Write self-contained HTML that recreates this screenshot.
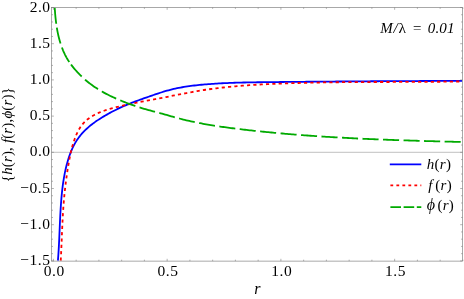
<!DOCTYPE html>
<html><head><meta charset="utf-8"><title>plot</title>
<style>
html,body{margin:0;padding:0;background:#fff;}
body{width:464px;height:299px;overflow:hidden;font-family:"Liberation Serif",serif;}
svg{display:block}
text{font-family:"Liberation Serif",serif;fill:#000;filter:grayscale(1)}
.tk text{font-size:15.5px}
.it{font-style:italic}
</style></head><body>
<svg width="464" height="299" viewBox="0 0 464 299">
<rect width="464" height="299" fill="#fff"/>
<defs><clipPath id="c"><rect x="51.6" y="7.5" width="410.9" height="253.60000000000002"/></clipPath></defs>
<line x1="51.6" x2="462.5" y1="152.30" y2="152.30" stroke="#b0b0b0" stroke-width="0.8"/>
<g clip-path="url(#c)" fill="none" stroke-width="1.8" stroke-linejoin="round">
<path d="M57.92,260.60 L58.06,258.85 L58.19,257.10 L58.32,255.35 L58.43,253.60 L58.55,251.85 L58.65,250.10 L58.75,248.35 L58.85,246.60 L58.94,244.85 L59.03,243.10 L59.11,241.35 L59.20,239.60 L59.28,237.86 L59.35,236.11 L59.43,234.36 L59.50,232.61 L59.58,230.86 L59.65,229.11 L59.73,227.36 L59.80,225.62 L59.88,223.87 L59.96,222.12 L60.04,220.37 L60.12,218.63 L60.21,216.88 L60.29,215.13 L60.39,213.39 L60.48,211.64 L60.59,209.89 L60.69,208.15 L60.81,206.40 L60.93,204.65 L61.05,202.91 L61.18,201.16 L61.32,199.42 L61.47,197.67 L61.63,195.93 L61.79,194.18 L61.97,192.44 L62.15,190.69 L62.35,188.95 L62.56,187.21 L62.78,185.47 L63.01,183.73 L63.26,182.00 L63.52,180.26 L63.80,178.53 L64.10,176.80 L64.41,175.08 L64.74,173.36 L65.09,171.64 L65.46,169.93 L65.85,168.22 L66.26,166.51 L66.69,164.81 L67.15,163.12 L67.63,161.43 L68.13,159.74 L68.66,158.07 L69.21,156.40 L69.80,154.74 L70.41,153.09 L71.06,151.46 L71.73,149.84 L72.45,148.25 L73.20,146.67 L73.99,145.12 L74.82,143.59 L75.70,142.09 L76.61,140.61 L77.58,139.17 L78.59,137.76 L79.64,136.38 L80.73,135.03 L81.86,133.71 L83.02,132.42 L84.22,131.16 L85.46,129.93 L86.73,128.73 L88.03,127.56 L89.35,126.41 L90.71,125.30 L92.09,124.21 L93.49,123.15 L94.92,122.12 L96.36,121.11 L97.82,120.12 L99.30,119.15 L100.79,118.21 L102.29,117.28 L103.80,116.37 L105.32,115.48 L106.85,114.60 L108.38,113.74 L109.92,112.90 L111.46,112.07 L113.01,111.26 L114.57,110.46 L116.13,109.68 L117.70,108.91 L119.27,108.16 L120.85,107.42 L122.44,106.70 L124.03,106.00 L125.63,105.31 L127.24,104.63 L128.86,103.97 L130.48,103.32 L132.10,102.69 L133.73,102.06 L135.36,101.44 L137.00,100.83 L138.65,100.23 L140.29,99.64 L141.94,99.05 L143.59,98.47 L145.25,97.89 L146.90,97.31 L148.56,96.73 L150.22,96.16 L151.87,95.58 L153.53,95.01 L155.19,94.44 L156.86,93.87 L158.52,93.32 L160.19,92.77 L161.86,92.24 L163.54,91.71 L165.21,91.21 L166.89,90.72 L168.58,90.26 L170.27,89.81 L171.97,89.39 L173.67,88.98 L175.37,88.60 L177.08,88.23 L178.79,87.89 L180.51,87.56 L182.23,87.25 L183.95,86.96 L185.68,86.68 L187.41,86.41 L189.14,86.16 L190.87,85.93 L192.61,85.70 L194.35,85.49 L196.09,85.29 L197.83,85.10 L199.57,84.92 L201.31,84.75 L203.06,84.59 L204.80,84.44 L206.55,84.30 L208.29,84.16 L210.04,84.03 L211.79,83.90 L213.53,83.78 L215.28,83.67 L217.03,83.56 L218.78,83.46 L220.53,83.36 L222.27,83.27 L224.02,83.18 L225.77,83.10 L227.52,83.03 L229.27,82.95 L231.02,82.89 L232.77,82.82 L234.52,82.76 L236.27,82.71 L238.02,82.66 L239.77,82.61 L241.52,82.56 L243.27,82.52 L245.03,82.48 L246.78,82.44 L248.53,82.41 L250.28,82.38 L252.03,82.35 L253.78,82.32 L255.54,82.29 L257.29,82.27 L259.04,82.25 L260.79,82.23 L262.54,82.21 L264.29,82.19 L266.05,82.17 L267.80,82.15 L269.55,82.13 L271.30,82.11 L273.05,82.09 L274.81,82.07 L276.56,82.06 L278.31,82.04 L280.06,82.02 L281.81,82.00 L283.57,81.99 L285.32,81.97 L287.07,81.95 L288.82,81.93 L290.57,81.92 L292.32,81.90 L294.07,81.88 L295.83,81.87 L297.58,81.85 L299.33,81.83 L301.08,81.82 L302.83,81.80 L304.58,81.79 L306.33,81.77 L308.09,81.75 L309.84,81.74 L311.59,81.72 L313.34,81.71 L315.09,81.69 L316.84,81.68 L318.59,81.66 L320.34,81.65 L322.10,81.63 L323.85,81.62 L325.60,81.60 L327.35,81.59 L329.10,81.57 L330.85,81.56 L332.60,81.55 L334.35,81.53 L336.11,81.52 L337.86,81.50 L339.61,81.49 L341.36,81.48 L343.11,81.46 L344.86,81.45 L346.61,81.44 L348.36,81.42 L350.11,81.41 L351.87,81.40 L353.62,81.39 L355.37,81.37 L357.12,81.36 L358.87,81.35 L360.62,81.34 L362.37,81.33 L364.12,81.32 L365.87,81.30 L367.62,81.29 L369.38,81.28 L371.13,81.27 L372.88,81.26 L374.63,81.25 L376.38,81.24 L378.13,81.23 L379.88,81.22 L381.63,81.21 L383.38,81.20 L385.14,81.19 L386.89,81.18 L388.64,81.17 L390.39,81.16 L392.14,81.15 L393.89,81.14 L395.64,81.13 L397.39,81.12 L399.15,81.11 L400.90,81.10 L402.65,81.10 L404.40,81.09 L406.15,81.08 L407.90,81.07 L409.65,81.06 L411.40,81.06 L413.16,81.05 L414.91,81.04 L416.66,81.03 L418.41,81.03 L420.16,81.02 L421.91,81.01 L423.66,81.01 L425.42,81.00 L427.17,80.99 L428.92,80.99 L430.67,80.98 L432.42,80.98 L434.17,80.97 L435.93,80.97 L437.68,80.96 L439.43,80.96 L441.18,80.95 L442.93,80.95 L444.68,80.94 L446.44,80.94 L448.19,80.93 L449.94,80.93 L451.69,80.92 L453.44,80.92 L455.20,80.92 L456.95,80.91 L458.70,80.91 L460.45,80.91 L462.20,80.90" stroke="#0000ff"/>
<path d="M60.73,260.59 L60.83,258.84 L60.92,257.09 L61.01,255.33 L61.10,253.58 L61.18,251.82 L61.27,250.07 L61.35,248.31 L61.42,246.55 L61.50,244.80 L61.57,243.04 L61.65,241.28 L61.72,239.52 L61.79,237.76 L61.86,236.01 L61.94,234.25 L62.01,232.49 L62.09,230.73 L62.16,228.97 L62.24,227.21 L62.32,225.45 L62.40,223.69 L62.49,221.93 L62.58,220.17 L62.67,218.42 L62.77,216.66 L62.87,214.90 L62.97,213.14 L63.08,211.39 L63.19,209.63 L63.31,207.88 L63.44,206.12 L63.57,204.37 L63.71,202.62 L63.86,200.86 L64.01,199.11 L64.17,197.36 L64.33,195.61 L64.51,193.87 L64.69,192.12 L64.87,190.37 L65.07,188.63 L65.27,186.88 L65.48,185.14 L65.69,183.39 L65.91,181.65 L66.14,179.91 L66.37,178.16 L66.62,176.42 L66.87,174.68 L67.12,172.94 L67.38,171.21 L67.65,169.47 L67.93,167.73 L68.21,165.99 L68.50,164.26 L68.80,162.52 L69.11,160.79 L69.43,159.06 L69.76,157.33 L70.11,155.60 L70.48,153.88 L70.87,152.16 L71.27,150.45 L71.70,148.74 L72.15,147.04 L72.63,145.34 L73.13,143.65 L73.67,141.97 L74.23,140.30 L74.83,138.63 L75.46,136.98 L76.13,135.33 L76.84,133.71 L77.59,132.11 L78.39,130.54 L79.25,129.01 L80.16,127.51 L81.13,126.07 L82.17,124.68 L83.28,123.35 L84.46,122.09 L85.70,120.89 L87.01,119.76 L88.38,118.69 L89.81,117.67 L91.28,116.71 L92.79,115.81 L94.34,114.95 L95.91,114.14 L97.52,113.38 L99.14,112.66 L100.78,111.98 L102.43,111.34 L104.09,110.73 L105.76,110.16 L107.44,109.61 L109.12,109.09 L110.82,108.60 L112.52,108.13 L114.22,107.68 L115.93,107.24 L117.64,106.82 L119.35,106.40 L121.06,106.00 L122.78,105.61 L124.49,105.22 L126.21,104.84 L127.93,104.47 L129.65,104.11 L131.37,103.75 L133.09,103.39 L134.81,103.05 L136.53,102.70 L138.26,102.36 L139.98,102.03 L141.70,101.70 L143.43,101.37 L145.16,101.04 L146.88,100.71 L148.61,100.39 L150.33,100.07 L152.06,99.74 L153.79,99.42 L155.52,99.09 L157.24,98.77 L158.97,98.44 L160.70,98.11 L162.43,97.78 L164.15,97.44 L165.88,97.10 L167.61,96.76 L169.33,96.42 L171.06,96.08 L172.79,95.73 L174.52,95.39 L176.24,95.04 L177.97,94.70 L179.70,94.36 L181.43,94.02 L183.16,93.68 L184.89,93.35 L186.62,93.02 L188.35,92.69 L190.08,92.37 L191.81,92.05 L193.54,91.74 L195.27,91.43 L197.01,91.13 L198.74,90.84 L200.48,90.56 L202.22,90.28 L203.95,90.01 L205.69,89.75 L207.43,89.49 L209.17,89.24 L210.91,89.00 L212.66,88.77 L214.40,88.54 L216.14,88.32 L217.89,88.11 L219.63,87.90 L221.38,87.70 L223.13,87.50 L224.87,87.32 L226.62,87.13 L228.37,86.95 L230.12,86.78 L231.87,86.62 L233.62,86.45 L235.37,86.30 L237.12,86.15 L238.87,86.00 L240.63,85.86 L242.38,85.72 L244.13,85.59 L245.89,85.46 L247.64,85.34 L249.39,85.21 L251.15,85.10 L252.90,84.99 L254.66,84.88 L256.42,84.77 L258.17,84.67 L259.93,84.57 L261.68,84.47 L263.44,84.38 L265.20,84.29 L266.95,84.20 L268.71,84.12 L270.47,84.03 L272.23,83.95 L273.98,83.87 L275.74,83.80 L277.50,83.72 L279.26,83.65 L281.01,83.58 L282.77,83.51 L284.53,83.45 L286.29,83.38 L288.04,83.32 L289.80,83.26 L291.56,83.21 L293.32,83.15 L295.08,83.10 L296.83,83.04 L298.59,82.99 L300.35,82.94 L302.11,82.90 L303.87,82.85 L305.63,82.81 L307.39,82.77 L309.14,82.72 L310.90,82.69 L312.66,82.65 L314.42,82.61 L316.18,82.58 L317.94,82.54 L319.70,82.51 L321.46,82.48 L323.22,82.45 L324.98,82.42 L326.73,82.40 L328.49,82.37 L330.25,82.35 L332.01,82.33 L333.77,82.30 L335.53,82.28 L337.29,82.26 L339.05,82.24 L340.81,82.23 L342.57,82.21 L344.33,82.19 L346.09,82.18 L347.85,82.16 L349.61,82.15 L351.37,82.14 L353.13,82.12 L354.89,82.11 L356.65,82.10 L358.40,82.09 L360.16,82.08 L361.92,82.07 L363.68,82.07 L365.44,82.06 L367.20,82.05 L368.96,82.04 L370.72,82.04 L372.48,82.03 L374.24,82.02 L376.00,82.02 L377.76,82.01 L379.52,82.01 L381.28,82.00 L383.04,82.00 L384.80,81.99 L386.56,81.99 L388.32,81.99 L390.08,81.98 L391.84,81.98 L393.60,81.97 L395.36,81.97 L397.12,81.96 L398.88,81.96 L400.64,81.95 L402.40,81.95 L404.16,81.94 L405.92,81.94 L407.67,81.93 L409.43,81.93 L411.19,81.92 L412.95,81.91 L414.71,81.91 L416.47,81.90 L418.23,81.89 L419.99,81.88 L421.75,81.87 L423.51,81.86 L425.27,81.85 L427.03,81.84 L428.78,81.83 L430.54,81.82 L432.30,81.80 L434.06,81.79 L435.82,81.77 L437.58,81.76 L439.34,81.74 L441.10,81.72 L442.85,81.70 L444.61,81.68 L446.37,81.66 L448.13,81.64 L449.89,81.62 L451.65,81.59 L453.40,81.57 L455.16,81.54 L456.92,81.51 L458.68,81.49 L460.44,81.46 L462.19,81.42" stroke="#ff0000" stroke-dasharray="3.17 3.17"/>
<path d="M54.71,7.53 L54.81,9.07 L54.92,10.61 L55.03,12.16 L55.15,13.72 L55.29,15.27 L55.43,16.83 L55.59,18.38 L55.76,19.94 L55.95,21.50 L56.15,23.06 L56.36,24.61 L56.59,26.17 L56.84,27.72 L57.10,29.27 L57.38,30.82 L57.68,32.36 L58.00,33.90 L58.35,35.43 L58.71,36.95 L59.09,38.48 L59.50,39.99 L59.93,41.49 L60.38,42.99 L60.86,44.48 L61.37,45.96 L61.90,47.43 L62.46,48.89 L63.04,50.33 L63.66,51.77 L64.30,53.18 L64.97,54.59 L65.68,55.97 L66.41,57.34 L67.18,58.70 L67.97,60.03 L68.80,61.35 L69.67,62.64 L70.57,63.91 L71.49,65.17 L72.45,66.40 L73.43,67.62 L74.43,68.82 L75.45,70.01 L76.49,71.18 L77.55,72.34 L78.63,73.48 L79.73,74.61 L80.84,75.71 L81.98,76.80 L83.13,77.87 L84.29,78.93 L85.47,79.96 L86.67,80.98 L87.88,81.97 L89.11,82.95 L90.35,83.90 L91.61,84.84 L92.87,85.75 L94.16,86.64 L95.45,87.51 L96.76,88.37 L98.08,89.20 L99.41,90.01 L100.75,90.81 L102.10,91.59 L103.46,92.35 L104.83,93.10 L106.21,93.83 L107.59,94.55 L108.99,95.25 L110.39,95.94 L111.81,96.61 L113.22,97.28 L114.65,97.93 L116.08,98.56 L117.51,99.19 L118.95,99.81 L120.40,100.42 L121.84,101.01 L123.30,101.60 L124.75,102.18 L126.21,102.75 L127.68,103.31 L129.15,103.86 L130.62,104.40 L132.09,104.93 L133.57,105.44 L135.05,105.95 L136.54,106.45 L138.03,106.93 L139.52,107.41 L141.01,107.87 L142.51,108.32 L144.01,108.77 L145.51,109.21 L147.01,109.63 L148.52,110.06 L150.03,110.47 L151.53,110.89 L153.04,111.30 L154.55,111.70 L156.06,112.11 L157.58,112.51 L159.09,112.92 L160.60,113.32 L162.11,113.73 L163.62,114.14 L165.13,114.56 L166.64,114.98 L168.15,115.41 L169.65,115.83 L171.16,116.26 L172.67,116.69 L174.18,117.11 L175.69,117.53 L177.20,117.95 L178.71,118.35 L180.22,118.75 L181.74,119.14 L183.26,119.52 L184.78,119.89 L186.30,120.26 L187.82,120.62 L189.35,120.96 L190.87,121.31 L192.40,121.64 L193.93,121.97 L195.46,122.29 L197.00,122.60 L198.53,122.90 L200.07,123.20 L201.60,123.49 L203.14,123.78 L204.68,124.06 L206.22,124.33 L207.76,124.60 L209.30,124.86 L210.85,125.12 L212.39,125.37 L213.94,125.62 L215.48,125.86 L217.03,126.10 L218.58,126.33 L220.13,126.56 L221.68,126.78 L223.23,127.00 L224.78,127.22 L226.33,127.43 L227.89,127.64 L229.44,127.84 L230.99,128.05 L232.55,128.24 L234.10,128.44 L235.66,128.63 L237.21,128.82 L238.77,129.01 L240.32,129.20 L241.88,129.38 L243.43,129.56 L244.99,129.74 L246.55,129.92 L248.10,130.10 L249.66,130.27 L251.22,130.44 L252.77,130.62 L254.33,130.78 L255.89,130.95 L257.44,131.12 L259.00,131.28 L260.56,131.44 L262.12,131.60 L263.67,131.76 L265.23,131.91 L266.79,132.07 L268.35,132.22 L269.91,132.37 L271.47,132.52 L273.02,132.67 L274.58,132.82 L276.14,132.96 L277.70,133.10 L279.26,133.24 L280.82,133.38 L282.38,133.52 L283.94,133.66 L285.50,133.79 L287.06,133.92 L288.62,134.06 L290.18,134.19 L291.74,134.31 L293.30,134.44 L294.86,134.57 L296.42,134.69 L297.98,134.81 L299.54,134.93 L301.10,135.05 L302.66,135.17 L304.22,135.29 L305.78,135.40 L307.35,135.52 L308.91,135.63 L310.47,135.74 L312.03,135.85 L313.59,135.96 L315.15,136.06 L316.72,136.17 L318.28,136.27 L319.84,136.38 L321.40,136.48 L322.96,136.58 L324.53,136.68 L326.09,136.78 L327.65,136.87 L329.21,136.97 L330.78,137.06 L332.34,137.15 L333.90,137.25 L335.46,137.34 L337.03,137.43 L338.59,137.51 L340.15,137.60 L341.72,137.69 L343.28,137.77 L344.84,137.86 L346.41,137.94 L347.97,138.02 L349.53,138.10 L351.10,138.18 L352.66,138.26 L354.22,138.34 L355.79,138.42 L357.35,138.49 L358.92,138.57 L360.48,138.64 L362.04,138.71 L363.61,138.78 L365.17,138.85 L366.74,138.92 L368.30,138.99 L369.86,139.06 L371.43,139.13 L372.99,139.20 L374.56,139.26 L376.12,139.33 L377.69,139.39 L379.25,139.45 L380.82,139.52 L382.38,139.58 L383.95,139.64 L385.51,139.70 L387.08,139.76 L388.64,139.82 L390.20,139.87 L391.77,139.93 L393.33,139.99 L394.90,140.04 L396.46,140.10 L398.03,140.15 L399.59,140.21 L401.16,140.26 L402.72,140.31 L404.29,140.36 L405.85,140.42 L407.42,140.47 L408.99,140.52 L410.55,140.57 L412.12,140.62 L413.68,140.66 L415.25,140.71 L416.81,140.76 L418.38,140.81 L419.94,140.85 L421.51,140.90 L423.07,140.95 L424.64,140.99 L426.20,141.04 L427.77,141.08 L429.33,141.13 L430.90,141.17 L432.46,141.21 L434.03,141.26 L435.59,141.30 L437.16,141.34 L438.73,141.38 L440.29,141.42 L441.86,141.47 L443.42,141.51 L444.99,141.55 L446.55,141.59 L448.12,141.63 L449.68,141.67 L451.25,141.71 L452.81,141.75 L454.38,141.79 L455.94,141.83 L457.51,141.87 L459.07,141.91 L460.64,141.95 L462.20,141.99" stroke="#00aa00" stroke-dasharray="16.3 4.0 16.2 4.3 16.3 3.1 16.0 4.54 16.1 4.435 16.1 4.435 16.1 4.435 16.1 4.435 16.1 4.435 16.1 4.435 16.1 4.435 16.1 4.435 16.1 4.435 16.1 4.435 16.1 4.435 16.1 4.435 16.1 4.435 16.1 4.435 16.1 4.435 16.1 4.435 16.1 4.435 16.1 4.435 16.1 4.435 16.1 4.435 16.1 4.435 16.1"/>
</g>
<rect x="51.6" y="7.5" width="410.9" height="253.60000000000002" fill="none" stroke="#747474" stroke-width="0.62"/>
<path d="M53.40,261.1 v-2.3 M53.40,7.5 v2.3 M76.15,261.1 v-1.4 M76.15,7.5 v1.4 M98.90,261.1 v-1.4 M98.90,7.5 v1.4 M121.65,261.1 v-1.4 M121.65,7.5 v1.4 M144.40,261.1 v-1.4 M144.40,7.5 v1.4 M167.15,261.1 v-2.3 M167.15,7.5 v2.3 M189.90,261.1 v-1.4 M189.90,7.5 v1.4 M212.65,261.1 v-1.4 M212.65,7.5 v1.4 M235.40,261.1 v-1.4 M235.40,7.5 v1.4 M258.15,261.1 v-1.4 M258.15,7.5 v1.4 M280.90,261.1 v-2.3 M280.90,7.5 v2.3 M303.65,261.1 v-1.4 M303.65,7.5 v1.4 M326.40,261.1 v-1.4 M326.40,7.5 v1.4 M349.15,261.1 v-1.4 M349.15,7.5 v1.4 M371.90,261.1 v-1.4 M371.90,7.5 v1.4 M394.65,261.1 v-2.3 M394.65,7.5 v2.3 M417.40,261.1 v-1.4 M417.40,7.5 v1.4 M440.15,261.1 v-1.4 M440.15,7.5 v1.4 M462.90,261.1 v-1.4 M462.90,7.5 v1.4 M51.6,260.90 h2.3 M462.5,260.90 h-2.3 M51.6,253.66 h1.4 M462.5,253.66 h-1.4 M51.6,246.42 h1.4 M462.5,246.42 h-1.4 M51.6,239.18 h1.4 M462.5,239.18 h-1.4 M51.6,231.94 h1.4 M462.5,231.94 h-1.4 M51.6,224.70 h2.3 M462.5,224.70 h-2.3 M51.6,217.46 h1.4 M462.5,217.46 h-1.4 M51.6,210.22 h1.4 M462.5,210.22 h-1.4 M51.6,202.98 h1.4 M462.5,202.98 h-1.4 M51.6,195.74 h1.4 M462.5,195.74 h-1.4 M51.6,188.50 h2.3 M462.5,188.50 h-2.3 M51.6,181.26 h1.4 M462.5,181.26 h-1.4 M51.6,174.02 h1.4 M462.5,174.02 h-1.4 M51.6,166.78 h1.4 M462.5,166.78 h-1.4 M51.6,159.54 h1.4 M462.5,159.54 h-1.4 M51.6,152.30 h2.3 M462.5,152.30 h-2.3 M51.6,145.06 h1.4 M462.5,145.06 h-1.4 M51.6,137.82 h1.4 M462.5,137.82 h-1.4 M51.6,130.58 h1.4 M462.5,130.58 h-1.4 M51.6,123.34 h1.4 M462.5,123.34 h-1.4 M51.6,116.10 h2.3 M462.5,116.10 h-2.3 M51.6,108.86 h1.4 M462.5,108.86 h-1.4 M51.6,101.62 h1.4 M462.5,101.62 h-1.4 M51.6,94.38 h1.4 M462.5,94.38 h-1.4 M51.6,87.14 h1.4 M462.5,87.14 h-1.4 M51.6,79.90 h2.3 M462.5,79.90 h-2.3 M51.6,72.66 h1.4 M462.5,72.66 h-1.4 M51.6,65.42 h1.4 M462.5,65.42 h-1.4 M51.6,58.18 h1.4 M462.5,58.18 h-1.4 M51.6,50.94 h1.4 M462.5,50.94 h-1.4 M51.6,43.70 h2.3 M462.5,43.70 h-2.3 M51.6,36.46 h1.4 M462.5,36.46 h-1.4 M51.6,29.22 h1.4 M462.5,29.22 h-1.4 M51.6,21.98 h1.4 M462.5,21.98 h-1.4 M51.6,14.74 h1.4 M462.5,14.74 h-1.4 M51.6,7.50 h2.3 M462.5,7.50 h-2.3" stroke="#747474" stroke-width="0.55" fill="none"/>
<g class="tk"><text x="54.00" y="275.8" text-anchor="middle" textLength="20.3" lengthAdjust="spacing">0.0</text><text x="167.75" y="275.8" text-anchor="middle" textLength="20.3" lengthAdjust="spacing">0.5</text><text x="281.50" y="275.8" text-anchor="middle" textLength="20.3" lengthAdjust="spacing">1.0</text><text x="395.25" y="275.8" text-anchor="middle" textLength="20.3" lengthAdjust="spacing">1.5</text><text x="50.0" y="11.60" text-anchor="end" textLength="20.3" lengthAdjust="spacing">2.0</text><text x="50.0" y="47.80" text-anchor="end" textLength="20.3" lengthAdjust="spacing">1.5</text><text x="50.0" y="84.00" text-anchor="end" textLength="20.3" lengthAdjust="spacing">1.0</text><text x="50.0" y="120.20" text-anchor="end" textLength="20.3" lengthAdjust="spacing">0.5</text><text x="50.0" y="156.40" text-anchor="end" textLength="20.3" lengthAdjust="spacing">0.0</text><text x="50.0" y="192.60" text-anchor="end" textLength="29.8" lengthAdjust="spacing">−0.5</text><text x="50.0" y="228.80" text-anchor="end" textLength="29.8" lengthAdjust="spacing">−1.0</text><text x="50.0" y="265.00" text-anchor="end" textLength="29.8" lengthAdjust="spacing">−1.5</text></g>
<text class="it" x="257.3" y="294.2" text-anchor="middle" font-size="16">r</text>
<text class="it" transform="translate(11.5,134.7) rotate(-90)" text-anchor="middle" font-size="15" textLength="95" lengthAdjust="spacing"><tspan font-style="normal">{</tspan>h<tspan font-style="normal">(</tspan>r<tspan font-style="normal">),</tspan> f<tspan font-style="normal">(</tspan>r<tspan font-style="normal">),</tspan>ϕ<tspan font-style="normal">(</tspan>r<tspan font-style="normal">)}</tspan></text>
<text class="it" y="33.3" font-size="15"><tspan x="380.3">M</tspan><tspan x="393.6">/</tspan><tspan x="398.4" font-style="normal" font-size="15.5">λ</tspan><tspan x="412.1">=</tspan><tspan x="427.8" textLength="26.6" lengthAdjust="spacing">0.01</tspan></text>
<g fill="none" stroke-width="1.75">
<line x1="389.8" x2="421.3" y1="164.3" y2="164.3" stroke="#0000ff"/>
<line x1="390.4" x2="421.3" y1="185.4" y2="185.4" stroke="#ff0000" stroke-dasharray="2.8 3.2"/>
<line x1="390.4" x2="421.3" y1="207.2" y2="207.2" stroke="#00aa00" stroke-dasharray="10.6 2.6"/>
</g>
<g class="it" font-size="15">
<text x="426.7" y="168.5">h<tspan font-style="normal" dx="0.3">(</tspan><tspan dx="0.3">r</tspan><tspan font-style="normal" dx="0.3">)</tspan></text>
<text x="428.3" y="189.8">f<tspan font-style="normal" dx="2.8">(</tspan><tspan dx="0.3">r</tspan><tspan font-style="normal" dx="0.3">)</tspan></text>
<text x="426.8" y="210.4"><tspan font-size="16">ϕ</tspan><tspan font-style="normal" dx="2.3">(</tspan><tspan dx="0.3">r</tspan><tspan font-style="normal" dx="0.3">)</tspan></text>
</g>
</svg>
</body></html>
